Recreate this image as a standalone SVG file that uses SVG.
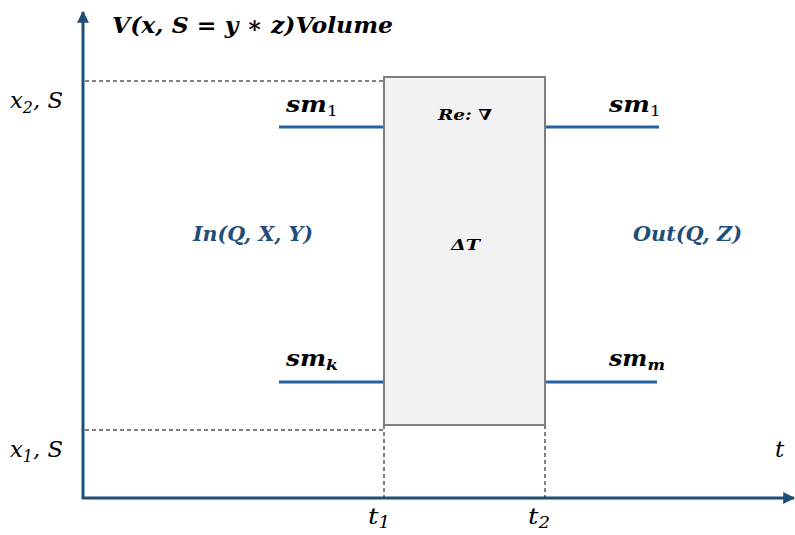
<svg xmlns="http://www.w3.org/2000/svg" width="795" height="535" viewBox="0 0 795 535">
<style>
.t{font-family:"DejaVu Serif","Liberation Serif",serif;font-weight:bold;font-style:italic;fill:#000}
.n{font-family:"DejaVu Serif","Liberation Serif",serif;font-style:italic;fill:#000}
.b{fill:#1f4e79}
.axis{stroke:#1f4e79;stroke-width:3;fill:none}
.dash{stroke:#000;stroke-width:1;stroke-dasharray:4 3;fill:none}
.flow{stroke:#2463a0;stroke-width:3;fill:none}
.sub{font-size:70%}
.r{font-weight:normal;font-style:normal}
</style>
<defs>
<marker id="ah" viewBox="0 0 10 10" refX="9" refY="5" markerWidth="4" markerHeight="4" orient="auto" markerUnits="strokeWidth">
<path d="M0,0 L10,5 L0,10 z" fill="#1f4e79"/>
</marker>
</defs>
<g id="connectors">
<line class="axis" x1="83" y1="499" x2="83" y2="12" marker-end="url(#ah)"/>
<line class="axis" x1="82" y1="498" x2="794" y2="498" marker-end="url(#ah)"/>
<line class="dash" x1="85" y1="81" x2="384" y2="81"/>
<line class="dash" x1="85" y1="430" x2="384" y2="430"/>
<line class="dash" x1="384" y1="425" x2="384" y2="497"/>
<line class="dash" x1="545" y1="425" x2="545" y2="497"/>
<line class="flow" x1="279" y1="127" x2="384" y2="127"/>
<line class="flow" x1="545" y1="127" x2="659" y2="127"/>
<line class="flow" x1="279" y1="382" x2="384" y2="382"/>
<line class="flow" x1="545" y1="382" x2="657" y2="382"/>
</g>
<g id="box">
<rect x="384" y="77" width="161" height="348" fill="#f2f2f2" stroke="#7f7f7f" stroke-width="2"/>
<text class="t" x="438" y="120" font-size="15" textLength="54" lengthAdjust="spacingAndGlyphs">Re: ∇</text>
<text class="t" x="451" y="250" font-size="15" textLength="29" lengthAdjust="spacingAndGlyphs">ΔT</text>
</g>
<g id="title"><text class="t" x="112" y="33" font-size="23" textLength="281" lengthAdjust="spacingAndGlyphs">V(x, S = y ∗ z)Volume</text></g>
<g id="x2"><text class="n" x="10" y="108" font-size="23" textLength="53" lengthAdjust="spacingAndGlyphs">x<tspan class="sub" dy="5">2</tspan><tspan dy="-5">, S</tspan></text></g>
<g id="x1"><text class="n" x="10" y="457" font-size="23" textLength="53" lengthAdjust="spacingAndGlyphs">x<tspan class="sub" dy="5">1</tspan><tspan dy="-5">, S</tspan></text></g>
<g id="t"><text class="n" x="775" y="457" font-size="23">t</text></g>
<g id="t1"><text class="n" x="368" y="524" font-size="23" textLength="22" lengthAdjust="spacingAndGlyphs">t<tspan class="sub" dy="4">1</tspan></text></g>
<g id="t2"><text class="n" x="528" y="524" font-size="23" textLength="22" lengthAdjust="spacingAndGlyphs">t<tspan class="sub" dy="4">2</tspan></text></g>
<g id="sm1l"><text class="t" x="286" y="112" font-size="22" textLength="52" lengthAdjust="spacingAndGlyphs">sm<tspan class="sub r" dy="4">1</tspan></text></g>
<g id="sm1r"><text class="t" x="609" y="112" font-size="22" textLength="52" lengthAdjust="spacingAndGlyphs">sm<tspan class="sub r" dy="4">1</tspan></text></g>
<g id="smk"><text class="t" x="286" y="366" font-size="22" textLength="52" lengthAdjust="spacingAndGlyphs">sm<tspan class="sub" dy="4">k</tspan></text></g>
<g id="smm"><text class="t" x="609" y="366" font-size="22" textLength="56" lengthAdjust="spacingAndGlyphs">sm<tspan class="sub" dy="4">m</tspan></text></g>
<g id="in"><text class="t b" x="193" y="241" font-size="20" textLength="120" lengthAdjust="spacingAndGlyphs">In(Q, X, Y)</text></g>
<g id="out"><text class="t b" x="633" y="241" font-size="20" textLength="109" lengthAdjust="spacingAndGlyphs">Out(Q, Z)</text></g>
</svg>
